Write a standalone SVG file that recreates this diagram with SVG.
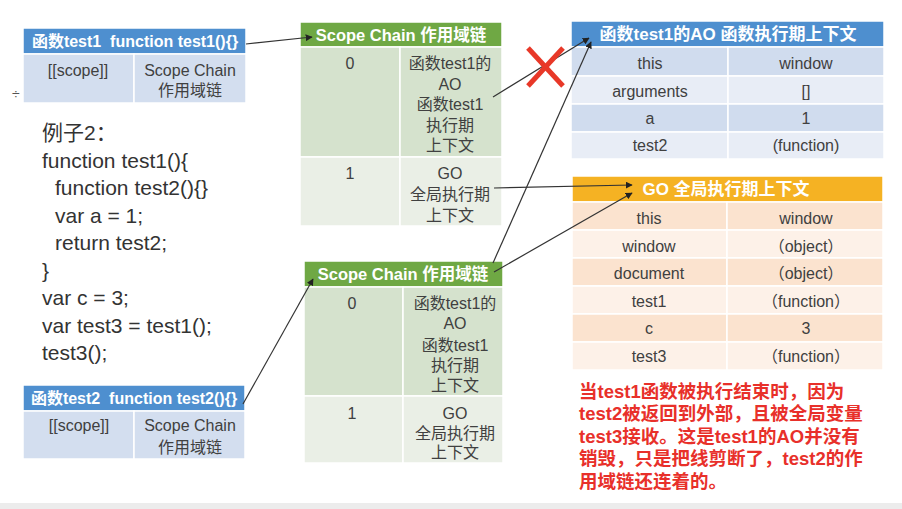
<svg xmlns="http://www.w3.org/2000/svg" width="902" height="509" viewBox="0 0 902 509">
<defs>
<marker id="arr" viewBox="0 0 10 10" refX="9" refY="5" markerWidth="7" markerHeight="7" markerUnits="userSpaceOnUse" orient="auto">
<path d="M0,0 L10,5 L0,10 z" fill="#222"/>
</marker>
</defs>
<style>
text{font-family:"Liberation Sans","Noto Sans CJK SC",sans-serif;}
.hd{fill:#fff;font-weight:bold;text-anchor:middle;white-space:pre;}
.c{fill:#404040;font-size:16px;text-anchor:middle;}
.code{fill:#333;font-size:21px;}
.red{fill:#e8302a;font-size:18.5px;font-weight:bold;}
.cell{stroke:#fff;stroke-width:1.5;}
.ln{stroke:#333;stroke-width:1.2;fill:none;marker-end:url(#arr);}
</style>
<rect x="0" y="0" width="902" height="509" fill="#fff"/>
<rect x="0" y="503" width="902" height="6" fill="#ececec"/>

<g id="test1-func">
<rect class="cell" x="23" y="28" width="223" height="26" fill="#4e8fcf"/>
<rect class="cell" x="23" y="54" width="111" height="49" fill="#d3deef"/>
<rect class="cell" x="134" y="54" width="112" height="49" fill="#d3deef"/>
<text class="hd" x="135" y="47" font-size="16" xml:space="preserve">函数test1  function test1(){}</text>
<text class="c" x="78" y="76">[[scope]]</text>
<text class="c" x="190" y="76">Scope Chain</text>
<text class="c" x="190" y="96">作用域链</text>
</g>
<text x="12" y="99" font-size="14" fill="#555">÷</text>

<g id="code">
<text class="code" x="42" y="140">例子2：</text>
<text class="code" x="42" y="167.5">function test1(){</text>
<text class="code" x="55" y="195">function test2(){}</text>
<text class="code" x="55" y="222.5">var a = 1;</text>
<text class="code" x="55" y="250">return test2;</text>
<text class="code" x="42" y="277.5">}</text>
<text class="code" x="42" y="305">var c = 3;</text>
<text class="code" x="42" y="332.5">var test3 = test1();</text>
<text class="code" x="42" y="360">test3();</text>
</g>

<g id="scope-chain-1">
<rect class="cell" x="300" y="22" width="202" height="25" fill="#6fa844"/>
<rect class="cell" x="300" y="47" width="100" height="110" fill="#d5e2cd"/>
<rect class="cell" x="400" y="47" width="102" height="110" fill="#d5e2cd"/>
<rect class="cell" x="300" y="157" width="100" height="69" fill="#eaefe6"/>
<rect class="cell" x="400" y="157" width="102" height="69" fill="#eaefe6"/>
<text class="hd" x="401" y="40.5" font-size="16.5">Scope Chain 作用域链</text>
<text class="c" x="350" y="69">0</text>
<text class="c" x="450" y="69">函数test1的</text>
<text class="c" x="450" y="89.5">AO</text>
<text class="c" x="450" y="110">函数test1</text>
<text class="c" x="450" y="130.5">执行期</text>
<text class="c" x="450" y="151">上下文</text>
<text class="c" x="350" y="179">1</text>
<text class="c" x="450" y="179">GO</text>
<text class="c" x="450" y="200">全局执行期</text>
<text class="c" x="450" y="221">上下文</text>
</g>

<g id="scope-chain-2">
<rect class="cell" x="304" y="261" width="199" height="26" fill="#6fa844"/>
<rect class="cell" x="304" y="287" width="99" height="109" fill="#d5e2cd"/>
<rect class="cell" x="403" y="287" width="100" height="109" fill="#d5e2cd"/>
<rect class="cell" x="304" y="396" width="99" height="67" fill="#eaefe6"/>
<rect class="cell" x="403" y="396" width="100" height="67" fill="#eaefe6"/>
<text class="hd" x="403" y="280" font-size="16.5">Scope Chain 作用域链</text>
<text class="c" x="352" y="309">0</text>
<text class="c" x="455" y="309">函数test1的</text>
<text class="c" x="455" y="329">AO</text>
<text class="c" x="455" y="351">函数test1</text>
<text class="c" x="455" y="371">执行期</text>
<text class="c" x="455" y="391">上下文</text>
<text class="c" x="352" y="419">1</text>
<text class="c" x="455" y="419">GO</text>
<text class="c" x="455" y="439">全局执行期</text>
<text class="c" x="455" y="458">上下文</text>
</g>

<g id="test2-func">
<rect class="cell" x="23" y="385" width="222" height="26" fill="#4e8fcf"/>
<rect class="cell" x="23" y="411" width="111" height="48" fill="#d3deef"/>
<rect class="cell" x="134" y="411" width="111" height="48" fill="#d3deef"/>
<text class="hd" x="134" y="404" font-size="16" xml:space="preserve">函数test2  function test2(){}</text>
<text class="c" x="79" y="431">[[scope]]</text>
<text class="c" x="190" y="431">Scope Chain</text>
<text class="c" x="190" y="453">作用域链</text>
</g>

<g id="ao-test1">
<rect class="cell" x="571" y="21" width="313" height="26" fill="#4e8fcf"/>
<rect class="cell" x="571" y="47" width="157" height="29" fill="#d0dcee"/>
<rect class="cell" x="728" y="47" width="156" height="29" fill="#d0dcee"/>
<rect class="cell" x="571" y="76" width="157" height="28" fill="#e8edf6"/>
<rect class="cell" x="728" y="76" width="156" height="28" fill="#e8edf6"/>
<rect class="cell" x="571" y="104" width="157" height="28" fill="#d0dcee"/>
<rect class="cell" x="728" y="104" width="156" height="28" fill="#d0dcee"/>
<rect class="cell" x="571" y="132" width="157" height="27" fill="#e8edf6"/>
<rect class="cell" x="728" y="132" width="156" height="27" fill="#e8edf6"/>
<text class="hd" x="728" y="40" font-size="17">函数test1的AO 函数执行期上下文</text>
<text class="c" x="650" y="69">this</text>
<text class="c" x="806" y="69">window</text>
<text class="c" x="650" y="97">arguments</text>
<text class="c" x="806" y="97">[]</text>
<text class="c" x="650" y="124">a</text>
<text class="c" x="806" y="124">1</text>
<text class="c" x="650" y="151">test2</text>
<text class="c" x="806" y="151">(function)</text>
</g>

<g id="go">
<rect class="cell" x="572" y="176" width="311" height="26" fill="#f5b223"/>
<rect class="cell" x="572" y="202" width="155" height="28" fill="#fbe3cf"/>
<rect class="cell" x="727" y="202" width="156" height="28" fill="#fbe3cf"/>
<rect class="cell" x="572" y="230" width="155" height="28" fill="#fdf1e8"/>
<rect class="cell" x="727" y="230" width="156" height="28" fill="#fdf1e8"/>
<rect class="cell" x="572" y="258" width="155" height="28" fill="#fbe3cf"/>
<rect class="cell" x="727" y="258" width="156" height="28" fill="#fbe3cf"/>
<rect class="cell" x="572" y="286" width="155" height="28" fill="#fdf1e8"/>
<rect class="cell" x="727" y="286" width="156" height="28" fill="#fdf1e8"/>
<rect class="cell" x="572" y="314" width="155" height="28" fill="#fbe3cf"/>
<rect class="cell" x="727" y="314" width="156" height="28" fill="#fbe3cf"/>
<rect class="cell" x="572" y="342" width="155" height="28" fill="#fdf1e8"/>
<rect class="cell" x="727" y="342" width="156" height="28" fill="#fdf1e8"/>
<text class="hd" x="726" y="195" font-size="17">GO 全局执行期上下文</text>
<text class="c" x="649" y="224">this</text>
<text class="c" x="806" y="224">window</text>
<text class="c" x="649" y="252">window</text>
<text class="c" x="806" y="252">（object）</text>
<text class="c" x="649" y="279">document</text>
<text class="c" x="806" y="279">（object）</text>
<text class="c" x="649" y="307">test1</text>
<text class="c" x="806" y="307">（function）</text>
<text class="c" x="649" y="334">c</text>
<text class="c" x="806" y="334">3</text>
<text class="c" x="649" y="362">test3</text>
<text class="c" x="806" y="362">（function）</text>
</g>

<g id="note">
<text class="red" x="579" y="398">当test1函数被执行结束时，因为</text>
<text class="red" x="579" y="420">test2被返回到外部，且被全局变量</text>
<text class="red" x="579" y="443">test3接收。这是test1的AO并没有</text>
<text class="red" x="579" y="465">销毁，只是把线剪断了，test2的作</text>
<text class="red" x="579" y="488">用域链还连着的。</text>
</g>

<g id="connectors">
<line class="ln" x1="246" y1="44" x2="312" y2="37"/>
<line class="ln" x1="493" y1="97" x2="589" y2="38"/>
<line class="ln" x1="493" y1="263" x2="591" y2="42"/>
<line class="ln" x1="494" y1="188" x2="632" y2="185"/>
<line class="ln" x1="494" y1="272" x2="632" y2="193"/>
<line class="ln" x1="243" y1="404" x2="313" y2="279"/>
</g>

<g id="cut-mark">
<line x1="528" y1="48" x2="563" y2="86" stroke="#e83828" stroke-width="5"/>
<line x1="563" y1="48" x2="528" y2="86" stroke="#e83828" stroke-width="5"/>
</g>
</svg>
